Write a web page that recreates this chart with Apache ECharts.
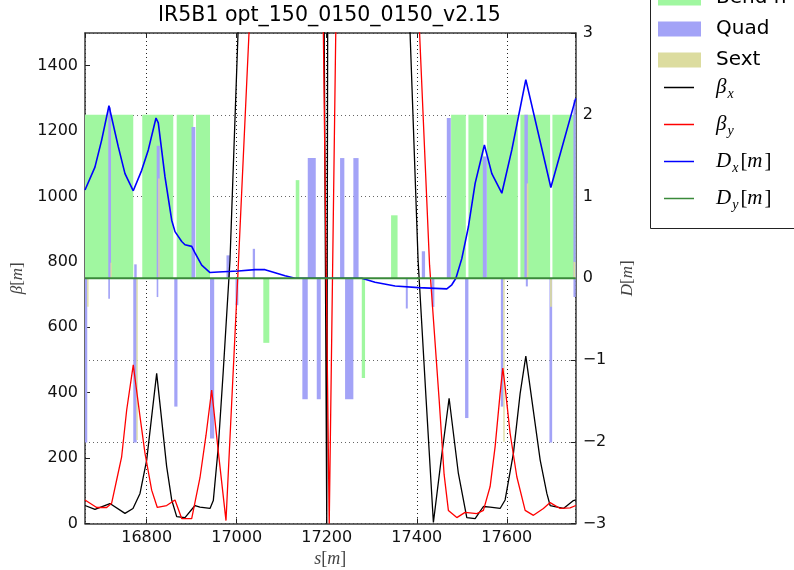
<!DOCTYPE html>
<html><head><meta charset="utf-8">
<script src="https://cdn.jsdelivr.net/npm/echarts@6/dist/echarts.min.js"></script>
<style>html,body{margin:0;padding:0;background:#fff}#c{width:794px;height:570px}</style>
</head><body><div id="c"></div>
<script>
const chartTitle = 'IR5B1 opt_150_0150_0150_v2.15';
const sRange = [16663, 17753];
const betaRange = [0, 1500, 200];
const dRange = [-3, 3, 1];
const elementNames = ['Bend h', 'Quad', 'Sext'];
const lineNames = ['βx', 'βy', 'Dx[m]', 'Dy[m]'];

// elements: [s_start, s_end, height on D axis]
const bends = [
  [16655, 16770.2, 2], [16790.2, 16859.1, 2], [16866.7, 16903.6, 2], [16909.6, 16940.7, 2],
  [17059.1, 17072.4, -0.79], [17131.1, 17139.1, 1.20], [17277.8, 17285.1, -1.22], [17342.9, 17357.3, 0.77],
  [17476.2, 17508.9, 2], [17514.7, 17548, 2], [17555.6, 17624.4, 2], [17630.2, 17696.2, 2], [17701.3, 17760, 2]
];
const quads = [
  [16655, 16668, -2.01], [16714.7, 16720.7, 2.09], [16714.7, 16718.4, -0.25],
  [16770.2, 16777.8, -2.01], [16772.4, 16777.8, 0.17],
  [16822.2, 16828.9, 1.62], [16822.2, 16825.8, -0.23],
  [16861.3, 16868.4, -1.57], [16899.6, 16908, 1.85], [16940.7, 16950, -1.96],
  [16977.3, 16985.1, 0.28], [16997.3, 17003.6, -0.33], [17035.6, 17040.7, 0.36],
  [17145.8, 17157.8, -1.48], [17157.8, 17175.6, 1.47], [17177.8, 17186.7, -1.48],
  [17229.6, 17239.1, 1.47], [17240.7, 17259.1, -1.48], [17259.1, 17270.7, 1.47],
  [17375.6, 17380, -0.37], [17411.1, 17418.4, 0.33], [17433.3, 17439.1, -0.35],
  [17466.7, 17475.6, 1.96], [17507.3, 17514.7, -1.71], [17546.7, 17555.6, 1.49],
  [17586.7, 17592.4, -1.57], [17639.1, 17646.7, 2.0], [17642.2, 17646.7, -0.1],
  [17694.7, 17700.7, -2.01], [17748, 17760, 2.18], [17748, 17760, -0.23]
];
const sexts = [
  [16668, 16670.7, -0.35], [16719.6, 16722.2, 0.19], [16777.3, 16780, -1.98], [16825.8, 16828.9, 1.22],
  [17592.4, 17595, -2.0], [17644.4, 17648, 1.16], [17696.2, 17700, -0.35], [17748, 17752, 0.2]
];

const betaX = [
  [16663, 55], [16685.1, 43], [16718.4, 61], [16751.8, 31], [16769.6, 46], [16785.2, 92], [16800, 194],
  [16811.1, 327], [16822.2, 459], [16833.3, 317], [16844.4, 174], [16855.6, 72], [16866.7, 21], [16885.1, 18],
  [16907.3, 55], [16918.4, 50], [16940.7, 46], [16948, 70], [16959.1, 234], [16970.2, 468], [16985.1, 805],
  [17002.9, 1500], [17050, 3500], [17150, 3500], [17194.4, 1500], [17200, 0.2], [17202, 1500], [17250, 3500],
  [17350, 3500], [17385.1, 1500], [17402.9, 805], [17420.7, 380], [17436.9, 3], [17454, 194], [17471.8, 383],
  [17492.4, 153], [17511.1, 18], [17529.6, 15], [17548, 52], [17562.9, 50], [17585.1, 46], [17596.2, 72],
  [17614.7, 215], [17629.6, 398], [17642.2, 512], [17655.6, 378], [17674.1, 194], [17688.9, 92], [17696.2, 55],
  [17725.8, 46], [17748, 70], [17753.3, 72]
];
const betaY = [
  [16663, 72], [16688.9, 49], [16711.1, 49], [16722.2, 62], [16733.3, 133], [16744.4, 204], [16755.6, 347],
  [16770.2, 485], [16785.2, 327], [16796.2, 215], [16811.1, 102], [16823.6, 49], [16844.4, 55], [16862.9, 72],
  [16877.8, 15], [16900, 15], [16918.4, 140], [16931.8, 270], [16944.4, 408], [16960.7, 200], [16976.2, 9],
  [17002.9, 770], [17027.3, 1500], [17100, 4000], [17170, 4000], [17192.5, 1500], [17205.5, 0.2], [17220, 1500],
  [17280, 4000], [17380, 4000], [17406.2, 1500], [17428.4, 790], [17449.6, 380], [17460.7, 150], [17470.2, 40],
  [17488.9, 18], [17507.3, 34], [17533.3, 30], [17548, 40], [17562.9, 113], [17574, 235], [17585.1, 398],
  [17591.1, 475], [17596.2, 418], [17607.3, 276], [17622.2, 143], [17640.7, 40], [17659.1, 25], [17681.3, 46],
  [17696.2, 64], [17718.4, 46], [17740.7, 48], [17753.3, 55]
];
const dispX = [
  [16663, 1.08], [16685.1, 1.36], [16700, 1.69], [16716.2, 2.11], [16736.9, 1.61], [16751.8, 1.28], [16770.2, 1.07],
  [16788.9, 1.32], [16803.6, 1.57], [16820.7, 1.96], [16825.8, 1.90], [16840.7, 1.24], [16855.6, 0.71], [16862.9, 0.57],
  [16877.8, 0.45], [16885.1, 0.41], [16900, 0.39], [16907.3, 0.31], [16922.2, 0.16], [16940.7, 0.07], [16959.1, 0.077],
  [17003.6, 0.089], [17040.7, 0.105], [17062.9, 0.105], [17077.8, 0.08], [17107.3, 0.03], [17129.6, 0.0], [17277.8, 0.0],
  [17307.3, -0.05], [17351.8, -0.095], [17403.6, -0.115], [17466.7, -0.13], [17477.8, -0.08], [17486.9, 0.0],
  [17500, 0.24], [17514.7, 0.63], [17529.6, 1.16], [17550.2, 1.63], [17566.7, 1.28], [17588.9, 1.04], [17611.1, 1.57],
  [17642.2, 2.43], [17697.8, 1.11], [17753, 2.2]
];
const dispY = [[16663, 0], [17753, 0]];

const colors = { bend: '#a0f7a0', quad: '#a3a3f7', sext: '#dcdc9f', bx: '#000000', by: '#ff0000', dx: '#0000ff', dy: '#3a8a3a' };

function boxItem(params, api) {
  const p0 = api.coord([api.value(0), 0]);
  const p1 = api.coord([api.value(1), api.value(2)]);
  let x = Math.min(p0[0], p1[0]), w = Math.abs(p1[0] - p0[0]);
  if (w < 1.3) { x -= (1.3 - w) / 2; w = 1.3; }
  const y = Math.min(p0[1], p1[1]), h = Math.abs(p1[1] - p0[1]);
  const cs = params.coordSys;
  const shape = echarts.graphic.clipRectByRect({ x: x, y: y, width: w, height: h }, { x: cs.x, y: cs.y, width: cs.width, height: cs.height });
  return shape && { type: 'rect', shape: shape, style: { fill: api.visual('color') } };
}

const mathFont = 'Liberation Serif';
const tickFont = { fontFamily: 'DejaVu Sans', fontSize: 16, color: '#111' };
const frame = { show: true, onZero: false, lineStyle: { color: '#3a3a3a', width: 1.5 } };
const ticks = { show: true, inside: true, length: 5, lineStyle: { color: '#222', width: 1 } };

const legendMap = {
  'βx': '{g|β}{s|x}', 'βy': '{g|β}{s|y}', 'Dx[m]': '{g|D}{s|x}{r|[}{g|m}{r|]}', 'Dy[m]': '{g|D}{s|y}{r|[}{g|m}{r|]}'
};

const chart = echarts.init(document.getElementById('c'), null, { renderer: 'canvas' });
chart.setOption({
  animation: false,
  backgroundColor: '#fff',
  title: { text: chartTitle, left: 158, top: 5, padding: 0,
    textStyle: { fontFamily: 'DejaVu Sans', fontSize: 20.5, fontWeight: 'normal', color: '#000' } },
  grid: { left: 85, right: 218.3, top: 33, bottom: 46.5, containLabel: false, outerBoundsMode: 'none' },
  graphic: [{ type: 'rect', z: 1, silent: true, shape: { x: 650.5, y: -20, width: 200, height: 248.5 },
    style: { fill: '#fff', stroke: '#222', lineWidth: 1 } }],
  legend: [{
    data: elementNames, orient: 'vertical', left: 658, top: -12, padding: 0, z: 5,
    itemWidth: 43, itemHeight: 15, itemGap: 11, icon: 'rect', selectedMode: false,
    textStyle: { fontFamily: 'DejaVu Sans', fontSize: 20, lineHeight: 15, color: '#000', padding: [0, 0, 0, 10] }
  }, {
    data: lineNames, orient: 'vertical', left: 664, top: 69, padding: 0, z: 5,
    itemWidth: 30, itemHeight: 1.5, itemGap: 0, icon: 'rect', selectedMode: false,
    formatter: function (n) { return legendMap[n]; },
    textStyle: { color: '#000', padding: [0, 0, 0, 17], lineHeight: 37,
      rich: {
        g: { fontFamily: mathFont, fontStyle: 'italic', fontSize: 21, lineHeight: 37, color: '#000' },
        r: { fontFamily: mathFont, fontSize: 21, lineHeight: 37, color: '#000', padding: [0, 0, 0, 2] },
        s: { fontFamily: mathFont, fontStyle: 'italic', fontSize: 14, lineHeight: 37, color: '#000', padding: [14, 0, 0, 1] }
      } }
  }],
  xAxis: [{
    type: 'value', min: sRange[0], max: sRange[1], position: 'bottom',
    name: '{i|s}[{i|m}]', nameLocation: 'middle', nameGap: 27,
    nameTextStyle: { fontFamily: mathFont, fontSize: 18, color: '#444', rich: { i: { fontFamily: mathFont, fontStyle: 'italic', fontSize: 18, color: '#444' } } },
    axisLine: frame, axisTick: ticks,
    axisLabel: Object.assign({ margin: 6, showMinLabel: false, showMaxLabel: false,
      formatter: function (v) { return (Math.abs(v % 200) < 1e-6) ? String(v) : ''; } }, tickFont),
    splitLine: { show: true, lineStyle: { color: '#222', type: [1, 3], width: 1 } }
  }, {
    type: 'value', min: sRange[0], max: sRange[1], position: 'top',
    axisLine: frame, axisTick: ticks, axisLabel: { show: false }, splitLine: { show: false }
  }],
  yAxis: [{
    type: 'value', min: betaRange[0], max: betaRange[1], interval: betaRange[2], position: 'left',
    name: '{i|β}[{i|m}]', nameLocation: 'middle', nameGap: 58, nameRotate: 90,
    nameTextStyle: { fontFamily: mathFont, fontSize: 17, color: '#444', rich: { i: { fontFamily: mathFont, fontStyle: 'italic', fontSize: 17, color: '#444' } } },
    axisLine: frame, axisTick: ticks,
    axisLabel: Object.assign({ margin: 7, showMaxLabel: false, formatter: function (v) { return String(v); } }, tickFont),
    splitLine: { show: false }
  }, {
    type: 'value', min: dRange[0], max: dRange[1], interval: dRange[2], position: 'right',
    name: '{i|D}[{i|m}]', nameLocation: 'middle', nameGap: 43, nameRotate: 90,
    nameTextStyle: { fontFamily: mathFont, fontSize: 17, color: '#444', rich: { i: { fontFamily: mathFont, fontStyle: 'italic', fontSize: 17, color: '#444' } } },
    axisLine: frame, axisTick: ticks,
    axisLabel: Object.assign({ margin: 7, formatter: function (v) { return String(v).replace('-', '\u2212'); } }, tickFont),
    splitLine: { show: true, lineStyle: { color: '#666', type: [1, 3], width: 1 } }
  }],
  series: [
    { name: 'Bend h', type: 'custom', xAxisIndex: 0, yAxisIndex: 1, renderItem: boxItem, data: bends,
      encode: { x: [0, 1], y: 2 }, itemStyle: { color: colors.bend }, z: 1 },
    { name: 'Quad', type: 'custom', xAxisIndex: 0, yAxisIndex: 1, renderItem: boxItem, data: quads,
      encode: { x: [0, 1], y: 2 }, itemStyle: { color: colors.quad }, z: 1 },
    { name: 'Sext', type: 'custom', xAxisIndex: 0, yAxisIndex: 1, renderItem: boxItem, data: sexts,
      encode: { x: [0, 1], y: 2 }, itemStyle: { color: colors.sext }, z: 1 },
    { name: 'βx', type: 'line', xAxisIndex: 0, yAxisIndex: 0, data: betaX, showSymbol: false, symbol: 'none', clip: true,
      lineStyle: { color: colors.bx, width: 1.3 }, itemStyle: { color: colors.bx }, z: 3 },
    { name: 'βy', type: 'line', xAxisIndex: 0, yAxisIndex: 0, data: betaY, showSymbol: false, symbol: 'none', clip: true,
      lineStyle: { color: colors.by, width: 1.3 }, itemStyle: { color: colors.by }, z: 3 },
    { name: 'Dx[m]', type: 'line', xAxisIndex: 0, yAxisIndex: 1, data: dispX, showSymbol: false, symbol: 'none', clip: true,
      lineStyle: { color: colors.dx, width: 1.6 }, itemStyle: { color: colors.dx }, z: 3 },
    { name: 'Dy[m]', type: 'line', xAxisIndex: 0, yAxisIndex: 1, data: dispY, showSymbol: false, symbol: 'none', clip: true,
      lineStyle: { color: colors.dy, width: 2 }, itemStyle: { color: colors.dy }, z: 3 }
  ]
});
</script>
</body></html>
